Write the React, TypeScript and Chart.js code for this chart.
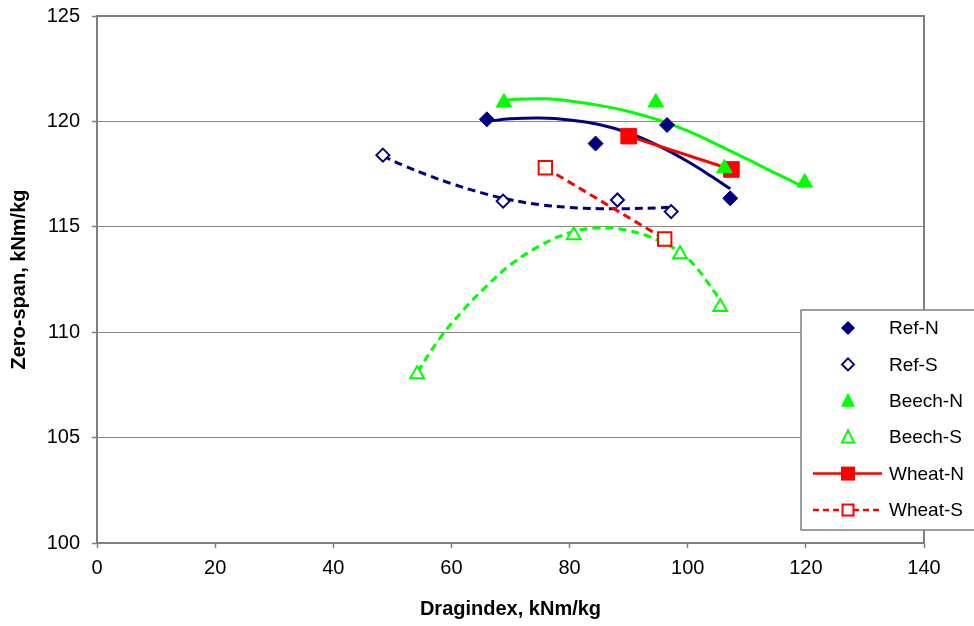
import React, { useEffect, useRef } from 'react';
import { Chart, registerables } from 'chart.js';
Chart.register(...registerables);

// Measured points
const refNX = [66.0, 84.4, 96.5, 107.2];
const refNY = [120.1, 118.95, 119.83, 116.35];
const refSX = [48.4, 68.75, 88.1, 97.2];
const refSY = [118.4, 116.22, 116.27, 115.72];
const beechNX = [68.9, 94.6, 106.2, 119.8];
const beechNY = [120.9, 120.9, 117.78, 117.1];
const beechSX = [54.2, 80.7, 98.7, 105.5];
const beechSY = [108.0, 114.6, 113.7, 111.2];
const wheatNX = [90.0, 107.4];
const wheatNY = [119.3, 117.72];
const wheatSX = [75.9, 96.1];
const wheatSY = [117.8, 114.42];

// Trend curves
const refNTrendX = [66, 70, 75, 80, 85, 90, 95, 100, 104, 107.2];
const refNTrendY = [120.0, 120.12, 120.16, 120.07, 119.85, 119.45, 118.85, 118.1, 117.4, 116.8];
const refSTrendX = [48.4, 52, 56, 60, 65, 70, 75, 80, 85, 90, 95, 97.2];
const refSTrendY = [118.35, 117.9, 117.45, 117.05, 116.62, 116.28, 116.05, 115.92, 115.86, 115.86, 115.9, 115.93];
const beechNTrendX = [68.9, 72, 76, 80, 85, 90, 95, 100, 105, 110, 115, 119.8];
const beechNTrendY = [121.0, 121.06, 121.07, 120.97, 120.76, 120.47, 120.07, 119.55, 118.9, 118.22, 117.52, 116.88];
const beechSTrendX = [54.2, 58, 62, 66, 70, 75, 80, 85, 90, 95, 100, 105.5];
const beechSTrendY = [108.1, 109.7, 111.05, 112.2, 113.2, 114.1, 114.72, 114.95, 114.82, 114.35, 113.5, 111.55];

const legendLabels = ['Ref-N', 'Ref-S', 'Beech-N', 'Beech-S', 'Wheat-N', 'Wheat-S'];

const NAVY = '#000080';
const GREEN = '#00ff00';
const RED = '#ff0000';
const FONT = '"Liberation Sans", Arial, Helvetica, sans-serif';

const pts = (xs: number[], ys: number[]) => xs.map((x, i) => ({ x, y: ys[i] }));

type Marker = { shape: 'diamond' | 'triangle' | 'square'; filled: boolean; color: string; line?: 'solid' | 'dash' };
const legendMarkers: Marker[] = [
  { shape: 'diamond', filled: true, color: NAVY },
  { shape: 'diamond', filled: false, color: NAVY },
  { shape: 'triangle', filled: true, color: GREEN },
  { shape: 'triangle', filled: false, color: GREEN },
  { shape: 'square', filled: true, color: RED, line: 'solid' },
  { shape: 'square', filled: false, color: RED, line: 'dash' },
];

function drawMarker(ctx: CanvasRenderingContext2D, m: Marker, x: number, y: number) {
  ctx.save();
  ctx.beginPath();
  if (m.shape === 'diamond') {
    const r = m.filled ? 7 : 6;
    ctx.moveTo(x, y - r); ctx.lineTo(x + r, y); ctx.lineTo(x, y + r); ctx.lineTo(x - r, y); ctx.closePath();
  } else if (m.shape === 'triangle') {
    const r = m.filled ? 8 : 7;
    ctx.moveTo(x, y - r); ctx.lineTo(x + r * 0.87, y + r * 0.75); ctx.lineTo(x - r * 0.87, y + r * 0.75); ctx.closePath();
  } else {
    const s = m.filled ? 7 : 5.5;
    ctx.rect(x - s, y - s, 2 * s, 2 * s);
  }
  if (m.filled) {
    ctx.fillStyle = m.color; ctx.fill();
  } else {
    ctx.fillStyle = '#ffffff'; ctx.fill();
    ctx.strokeStyle = m.color; ctx.lineWidth = 2; ctx.stroke();
  }
  ctx.restore();
}

const framePlugin = {
  id: 'frameAndLegend',
  beforeDatasetsDraw(chart: any) {
    const { ctx, chartArea: a } = chart;
    ctx.save();
    ctx.strokeStyle = '#808080';
    ctx.lineWidth = 2;
    ctx.beginPath();
    ctx.moveTo(a.left, a.top);
    ctx.lineTo(a.right, a.top);
    ctx.lineTo(a.right, a.bottom);
    ctx.stroke();
    ctx.restore();
  },
  afterDraw(chart: any) {
    const { ctx } = chart;
    const bx = 801, by = 310, bw = 190, bh = 220;
    ctx.save();
    ctx.fillStyle = '#ffffff';
    ctx.fillRect(bx, by, bw, bh);
    ctx.strokeStyle = '#808080';
    ctx.lineWidth = 1.5;
    ctx.strokeRect(bx, by, bw, bh);
    ctx.font = `19px ${FONT}`;
    ctx.textBaseline = 'middle';
    ctx.textAlign = 'left';
    legendLabels.forEach((label, i) => {
      const y = by + 18 + i * 36.4;
      const m = legendMarkers[i];
      if (m.line) {
        ctx.save();
        ctx.strokeStyle = m.color;
        ctx.lineWidth = 2.5;
        if (m.line === 'dash') ctx.setLineDash([6, 4]);
        ctx.beginPath();
        ctx.moveTo(813, y);
        ctx.lineTo(882, y);
        ctx.stroke();
        ctx.restore();
      }
      drawMarker(ctx, m, 848, y);
      ctx.fillStyle = '#000000';
      ctx.fillText(label, 889, y + 1);
    });
    ctx.restore();
  },
};

export default function App() {
  const ref = useRef<HTMLCanvasElement | null>(null);
  useEffect(() => {
    document.body.style.margin = '0';
    const canvas = ref.current;
    if (!canvas) return;
    const trend = (label: string, xs: number[], ys: number[], color: string, dashed: boolean) => ({
      type: 'line' as const,
      label,
      data: pts(xs, ys),
      showLine: true,
      borderColor: color,
      borderWidth: 3,
      borderDash: dashed ? [8, 5] : [],
      pointRadius: 0,
      tension: 0.4,
      fill: false,
      order: 2,
    });
    const marks = (label: string, xs: number[], ys: number[], color: string, style: string, radius: number, filled: boolean) => ({
      type: 'scatter' as const,
      label,
      data: pts(xs, ys),
      showLine: false,
      pointStyle: style,
      pointRadius: radius,
      pointHoverRadius: radius,
      pointBackgroundColor: filled ? color : '#ffffff',
      pointBorderColor: color,
      pointBorderWidth: filled ? 1 : 2,
      order: 1,
    });
    const chart = new Chart(canvas, {
      type: 'scatter',
      data: {
        datasets: [
          trend('Ref-N trend', refNTrendX, refNTrendY, NAVY, false),
          trend('Ref-S trend', refSTrendX, refSTrendY, NAVY, true),
          trend('Beech-N trend', beechNTrendX, beechNTrendY, GREEN, false),
          trend('Beech-S trend', beechSTrendX, beechSTrendY, GREEN, true),
          marks('Ref-N', refNX, refNY, NAVY, 'rectRot', 7.5, true),
          marks('Ref-S', refSX, refSY, NAVY, 'rectRot', 6.5, false),
          marks('Beech-N', beechNX, beechNY, GREEN, 'triangle', 9, true),
          marks('Beech-S', beechSX, beechSY, GREEN, 'triangle', 8, false),
          {
            type: 'line' as const,
            label: 'Wheat-N',
            data: pts(wheatNX, wheatNY),
            showLine: true,
            borderColor: RED,
            borderWidth: 3,
            pointStyle: 'rect',
            pointRadius: 11,
            pointBackgroundColor: RED,
            pointBorderColor: RED,
            pointBorderWidth: 1,
            order: 1,
          },
          {
            type: 'line' as const,
            label: 'Wheat-S',
            data: pts(wheatSX, wheatSY),
            showLine: true,
            borderColor: RED,
            borderWidth: 3,
            borderDash: [8, 5],
            pointStyle: 'rect',
            pointRadius: 9.5,
            pointBackgroundColor: '#ffffff',
            pointBorderColor: RED,
            pointBorderWidth: 2,
            order: 1,
          },
        ] as any,
      },
      options: {
        responsive: false,
        animation: false,
        events: [],
        layout: { padding: { top: 16, right: 50, left: 0, bottom: 0 } },
        plugins: { legend: { display: false }, tooltip: { enabled: false } },
        scales: {
          x: {
            type: 'linear',
            min: 0,
            max: 140,
            afterFit: (s: any) => { s.height = 83; s.paddingLeft = 0; s.paddingRight = 0; },
            ticks: { stepSize: 20, color: '#000', font: { family: FONT, size: 20 }, padding: 8, maxRotation: 0 },
            grid: { drawOnChartArea: false, drawTicks: true, tickLength: 5, tickColor: '#808080', tickWidth: 1.5 },
            border: { display: true, color: '#808080', width: 2 },
            title: {
              display: true,
              text: 'Dragindex, kNm/kg',
              color: '#000',
              font: { family: FONT, size: 20, weight: 'bold' },
              padding: { top: 0, bottom: 5 },
            },
          },
          y: {
            type: 'linear',
            min: 100,
            max: 125,
            afterFit: (s: any) => { s.width = 97; s.paddingTop = 0; s.paddingBottom = 0; },
            ticks: { stepSize: 5, color: '#000', font: { family: FONT, size: 20 }, padding: 12 },
            grid: { color: '#888888', lineWidth: 1, drawTicks: true, tickLength: 5, tickColor: '#808080', tickWidth: 1.5 },
            border: { display: true, color: '#808080', width: 2 },
            title: {
              display: true,
              text: 'Zero-span, kNm/kg',
              color: '#000',
              font: { family: FONT, size: 20, weight: 'bold' },
              padding: { top: 7, bottom: 0 },
            },
          },
        },
      },
      plugins: [framePlugin],
    } as any);
    return () => chart.destroy();
  }, []);
  return (
    <div style={{ width: 974, height: 626, background: '#fff' }}>
      <canvas ref={ref} width={974} height={626} style={{ display: 'block' }} />
    </div>
  );
}
